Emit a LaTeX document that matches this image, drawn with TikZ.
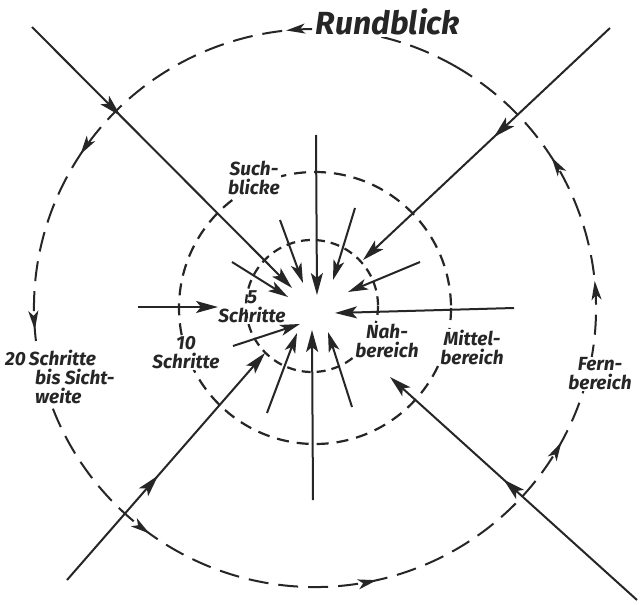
\documentclass[tikz,border=0pt]{standalone}
\usepackage{fontspec}
\setmainfont{Fira Sans}
\usetikzlibrary{arrows.meta,decorations.markings}
\begin{document}
\begin{tikzpicture}[x=1pt,y=-1pt,
  ink/.style={line width=2pt, draw=black!85},
  headtip/.style={-{Stealth[length=22pt,width=12pt,inset=5pt]}},
  smalltip/.style={-{Stealth[length=20pt,width=11pt,inset=5pt]}},
  midarrow/.style={postaction={decorate}, decoration={markings,
      mark=at position #1 with {\arrow{Stealth[length=22pt,width=12pt,inset=5pt]}}}},
  outerring/.style={ink, line width=2pt, dash pattern=on 20pt off 10pt},
  middlering/.style={ink, line width=2.2pt, dash pattern=on 12pt off 8pt},
  innerring/.style={ink, line width=2.2pt, dash pattern=on 9pt off 6pt},
  lbl/.style={font=\bfseries\itshape\fontsize{19}{19}\selectfont, fill=white, inner sep=1pt, align=center, text=black!85},
  biglbl/.style={font=\itshape\fontsize{32}{34}\selectfont, fill=white, inner sep=2pt, text=black!85},
]
\useasboundingbox[fill=white] (0,0) rectangle (643,605);

% centres
\coordinate (c) at (315,308);
\coordinate (ci) at (312,306);

% rings
\draw[outerring, postaction={decorate}, decoration={markings,
   mark=at position 0.100 with {\arrow{Stealth[length=19pt,width=10pt,inset=5pt]}},
   mark=at position 0.241 with {\arrow{Stealth[length=19pt,width=10pt,inset=5pt]}},
   mark=at position 0.346 with {\arrow{Stealth[length=19pt,width=10pt,inset=5pt]}},
   mark=at position 0.483 with {\arrow{Stealth[length=19pt,width=10pt,inset=5pt]}},
   mark=at position 0.619 with {\arrow{Stealth[length=19pt,width=10pt,inset=5pt]}},
   mark=at position 0.754 with {\arrow{Stealth[length=19pt,width=10pt,inset=5pt]}},
   mark=at position 0.849 with {\arrow{Stealth[length=19pt,width=10pt,inset=5pt]}},
   mark=at position 0.924 with {\arrow{Stealth[length=19pt,width=10pt,inset=5pt]}}}]
  (455.5,66.4) arc[start angle=-60, end angle=-420, x radius=281, y radius=279];
\draw[middlering] (c) circle[radius=136];
\draw[innerring] (ci) circle[radius=66];

% labels
\node[biglbl] (rund) at (388,22) {\bfseries Rundblick};
\node[lbl] (such) at (254,178) {Such-\\blicke};
\node[lbl, fill=none] (s5) at (252,307) {5\\Schritte};
\node[lbl] (s10) at (186,353) {10\\Schritte};
\node[lbl, align=left, anchor=north west] (s20) at (4,349) {20\,Schritte\\\hspace*{30pt}bis Sicht-\\\hspace*{30pt}weite};
\node[lbl] (nah) at (387,341) {Nah-\\bereich};
\node[lbl] (mittel) at (472,347) {Mittel-\\bereich};
\node[lbl] (fern) at (600,374) {Fern-\\bereich};

% long sight lines
\coordinate (a1) at (32,27);   \coordinate (b1) at (292,288);
\coordinate (a2) at (610,28);  \coordinate (b2) at (363,260);
\coordinate (a3) at (67,580);  \coordinate (b3) at (265,353);
\coordinate (a4) at (637,600); \coordinate (b4) at (390,377);
\draw[ink, headtip, midarrow=0.34] (a1) -- (b1);
\draw[ink, headtip, midarrow=0.47] (a2) -- (b2);
\draw[ink, headtip, midarrow=0.46] (a3) -- (b3);
\draw[ink, headtip, midarrow=0.54] (a4) -- (b4);

% axis lines
\coordinate (v1a) at (316,135); \coordinate (v1b) at (317,295);
\coordinate (v2a) at (313,500); \coordinate (v2b) at (312,330);
\coordinate (h1a) at (138,307); \coordinate (h1b) at (218,307);
\coordinate (h2a) at (514,308); \coordinate (h2b) at (335,313);
\draw[ink, headtip] (v1a) -- (v1b);
\draw[ink, headtip] (v2a) -- (v2b);
\draw[ink, headtip] (h1a) -- (h1b);
\draw[ink, headtip] (h2a) -- (h2b);

% short search glances
\coordinate (sa1) at (280,220); \coordinate (sb1) at (303,283);
\coordinate (sa2) at (355,208); \coordinate (sb2) at (333,280);
\coordinate (sa3) at (232,262); \coordinate (sb3) at (288,297);
\coordinate (sa4) at (420,262); \coordinate (sb4) at (348,292);
\coordinate (sa5) at (233,346); \coordinate (sb5) at (300,324);
\coordinate (sa6) at (267,413); \coordinate (sb6) at (297,333);
\coordinate (sa7) at (352,407); \coordinate (sb7) at (328,332);
\foreach \i in {1,...,7} {
  \draw[ink, smalltip] (sa\i) -- (sb\i);
}
\end{tikzpicture}
\end{document}
